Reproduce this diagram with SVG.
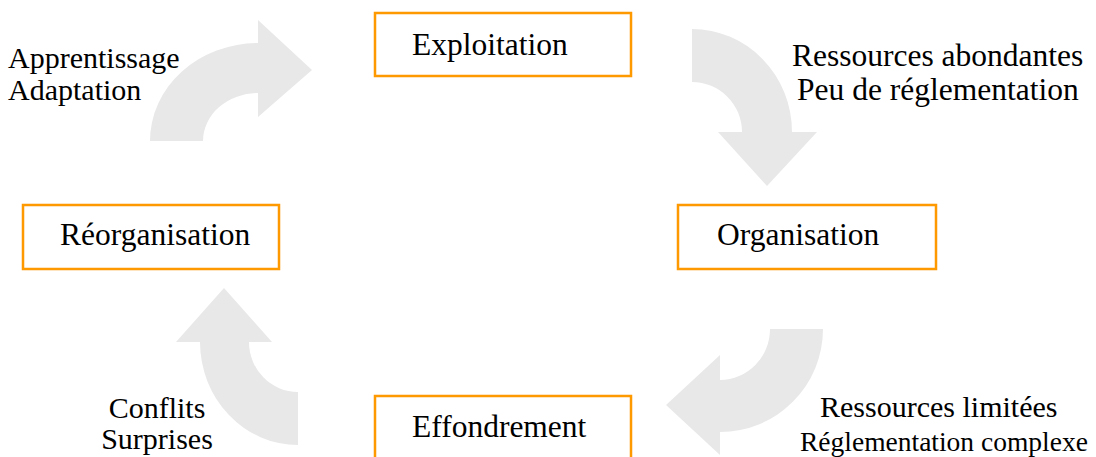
<svg xmlns="http://www.w3.org/2000/svg" width="1096" height="457" viewBox="0 0 1096 457">
<style>
.box{fill:#fff;stroke:#f90;stroke-width:2.5}
text{font-family:'Liberation Serif','Times New Roman',serif;font-size:31.5px;fill:#000}
.lbl{font-size:30px}
.sm{font-size:27.5px}
.arr{fill:#e8e8e8;stroke:none}
</style>
<rect width="1096" height="457" fill="#fff"/>
<g id="connectors">
<path class="arr" d="M150,141 A108,98 0 0 1 258,43 L258,20 L312,70 L258,117 L258,93 A55,48 0 0 0 203,141 Z"/>
<path class="arr" d="M692,29 A100,103 0 0 1 792,132 L817,132 L767,186 L718,132 L742,132 A50,50 0 0 0 692,82 Z"/>
<path class="arr" d="M823,329 A103,103 0 0 1 720,432 L720,455 L666,405 L720,355 L720,380 A50,51 0 0 0 770,329 Z"/>
<path class="arr" d="M298,445 A98,103 0 0 1 200,342 L176,342 L224,288 L272,342 L249,342 A49,50 0 0 0 298,392 Z"/>
</g>
<g id="exploitation">
<rect class="box" x="375" y="13" width="256" height="63"/>
<text x="412" y="55">Exploitation</text>
</g>
<g id="organisation">
<rect class="box" x="678" y="205" width="258" height="64"/>
<text x="717" y="245">Organisation</text>
</g>
<g id="effondrement">
<rect class="box" x="375" y="396" width="256" height="64"/>
<text x="412" y="437">Effondrement</text>
</g>
<g id="reorganisation">
<rect class="box" x="23" y="205" width="256" height="64"/>
<text x="60" y="245">Réorganisation</text>
</g>
<g id="labels">
<text class="lbl" x="8" y="68">Apprentissage</text>
<text class="lbl" x="8" y="100">Adaptation</text>
<text x="792" y="66">Ressources abondantes</text>
<text x="797" y="100">Peu de réglementation</text>
<text class="lbl" x="157" y="418" text-anchor="middle">Conflits</text>
<text class="lbl" x="157" y="449" text-anchor="middle">Surprises</text>
<text class="lbl" x="820" y="417">Ressources limitées</text>
<text class="sm" x="800" y="451">Réglementation complexe</text>
</g>
</svg>
